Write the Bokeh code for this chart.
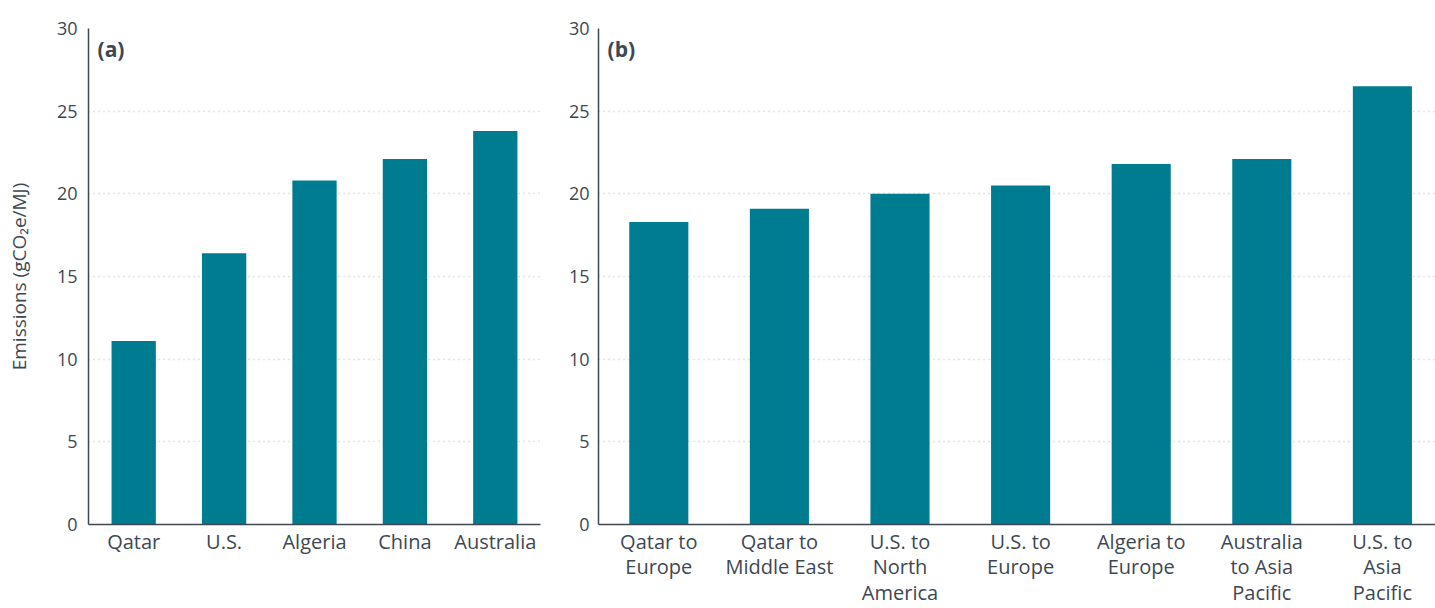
from bokeh.plotting import figure
from bokeh.layouts import row
from bokeh.models import Range1d, FixedTicker, Label
from bokeh.embed import file_html
from bokeh.resources import INLINE

# ---- data ----
countries = ["Qatar", "U.S.", "Algeria", "China", "Australia"]
country_vals = [11.1, 16.4, 20.8, 22.1, 23.8]

routes = ["Qatar to\nEurope", "Qatar to\nMiddle East", "U.S. to\nNorth\nAmerica",
          "U.S. to\nEurope", "Algeria to\nEurope", "Australia\nto Asia\nPacific",
          "U.S. to\nAsia\nPacific"]
route_vals = [18.3, 19.1, 20.0, 20.5, 21.8, 22.1, 26.5]

y_ticks = [0, 5, 10, 15, 20, 25, 30]

BAR = "#007c91"
TXT = "#3d4852"
FONT = "Open Sans"


def make(cats, vals, width, bl, br, xend, tag, tag_x, ystand, ylabel=None):
    n = len(cats)
    p = figure(width=width, height=608, output_backend="svg", toolbar_location=None,
               x_range=Range1d(0, xend), y_range=Range1d(0, 30),
               min_border_left=bl, min_border_right=br, min_border_top=28,
               min_border_bottom=83)
    xs = [i + 0.5 for i in range(n)]
    p.vbar(x=xs, top=vals, width=0.49, color=BAR, line_color=None)
    p.outline_line_color = None
    p.xgrid.grid_line_color = None
    p.ygrid.grid_line_color = "#c8c8c8"
    p.ygrid.grid_line_dash = "1 4"
    p.ygrid.grid_line_width = 1.5
    p.yaxis.ticker = FixedTicker(ticks=y_ticks)
    p.xaxis.ticker = FixedTicker(ticks=xs)
    p.xaxis.major_label_overrides = {x: c for x, c in zip(xs, cats)}
    for ax in (p.xaxis, p.yaxis):
        ax.axis_line_color = "#3d4852"
        ax.axis_line_width = 1.5
        ax.major_tick_line_color = None
        ax.minor_tick_line_color = None
        ax.major_label_text_font = FONT
        ax.major_label_text_color = TXT
    p.yaxis.major_label_text_font_size = "18px"
    p.xaxis.major_label_text_font_size = "20px"
    p.xaxis.major_label_text_line_height = 0.95
    p.yaxis.major_label_standoff = ystand
    p.xaxis.major_label_standoff = -3
    if ylabel:
        p.yaxis.axis_label = ylabel
        p.yaxis.axis_label_text_font = FONT
        p.yaxis.axis_label_text_font_size = "19px"
        p.yaxis.axis_label_text_font_style = "normal"
        p.yaxis.axis_label_text_color = TXT
        p.yaxis.axis_label_standoff = 22
    p.add_layout(Label(x=tag_x, y=29.6, text=tag, text_font=FONT, text_font_size="21px",
                       text_font_style="bold", text_color=TXT, text_baseline="top"))
    return p


p1 = make(countries, country_vals, 550, 88, 10, 5, "(a)", 0.1, 5,
          "Emissions (gCO\u2082e/MJ)")
p2 = make(routes, route_vals, 885, 48, 0, 837 / 120.6, "(b)", 0.075, 3)

layout = row(p1, p2)
open("out.html", "w").write(file_html(layout, INLINE))
